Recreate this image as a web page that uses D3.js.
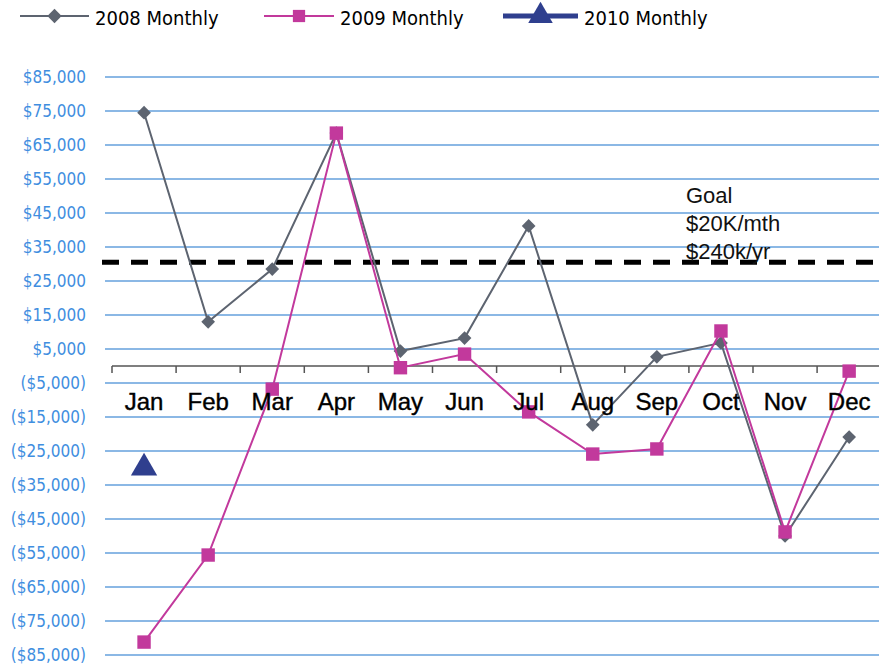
<!DOCTYPE html>
<html>
<head>
<meta charset="utf-8">
<script src="https://cdn.jsdelivr.net/npm/d3@7/dist/d3.min.js"></script>
<style>
  html, body { margin: 0; padding: 0; background: #fff; }
  svg { display: block; }
  .narrow { font-family: 'DejaVu Sans Condensed', 'Liberation Sans', sans-serif; }
  .arial { font-family: 'Liberation Sans', Arial, sans-serif; }
</style>
</head>
<body>
<svg width="879" height="670"></svg>
<script>
// chart data
var months = ['Jan','Feb','Mar','Apr','May','Jun','Jul','Aug','Sep','Oct','Nov','Dec'];
var monthly2008 = [74500, 13000, 28500, 68500, 4400, 8200, 41200, -17300, 2700, 6800, -50000, -20900];
var monthly2009 = [-81200, -55600, -6800, 68500, -500, 3500, -13500, -25900, -24400, 10300, -48800, -1500];
var monthly2010 = [-30000];
var yTicks = d3.range(85000, -85001, -10000);
var goalValue = 30500;
var goalLines = ['Goal', '$20K/mth', '$240k/yr'];

var gray = '#5d6470', pink = '#c2399c', navy = '#2f3f8e';

var svg = d3.select('svg');

var x = d3.scaleBand().domain(months).range([112, 112 + 12 * 64.1]);
var y = d3.scaleLinear().domain([-85000, 85000]).range([655, 77]);

function money(v) {
    var s = '$' + d3.format(',')(Math.abs(v));
    return v < 0 ? '(' + s + ')' : s;
}

// gridlines
svg.append('g').selectAll('line')
    .data(yTicks)
    .enter().append('line')
    .attr('x1', 105).attr('x2', 879)
    .attr('y1', function(d) { return y(d); })
    .attr('y2', function(d) { return y(d); })
    .attr('stroke', '#64a0dc')
    .attr('stroke-width', 1.5);

// y labels
svg.append('g').attr('class', 'narrow').selectAll('text')
    .data(yTicks)
    .enter().append('text')
    .attr('x', 86)
    .attr('y', function(d) { return y(d); })
    .attr('dy', '0.36em')
    .attr('text-anchor', 'end')
    .attr('fill', '#3f8ee0')
    .style('font-size', '17px')
    .text(money);

// x axis (ticks between categories)
var axis = svg.append('g').attr('transform', 'translate(0,' + y(0) + ')');
axis.append('line')
    .attr('x1', 112).attr('x2', 879)
    .attr('stroke', '#555').attr('stroke-width', 1.5);
axis.selectAll('line.tick')
    .data(months)
    .enter().append('line')
    .attr('class', 'tick')
    .attr('x1', function(d) { return x(d); })
    .attr('x2', function(d) { return x(d); })
    .attr('y1', 0).attr('y2', 7)
    .attr('stroke', '#555').attr('stroke-width', 1.5);

// goal line
svg.append('line')
    .attr('x1', 102).attr('x2', 879)
    .attr('y1', y(goalValue)).attr('y2', y(goalValue))
    .attr('stroke', '#000')
    .attr('stroke-width', 5)
    .attr('stroke-dasharray', '17,12');

svg.append('g').attr('class', 'arial').selectAll('text')
    .data(goalLines)
    .enter().append('text')
    .attr('x', 686)
    .attr('y', function(d, i) { return 203 + i * 28; })
    .attr('fill', '#111')
    .style('font-size', '22px')
    .text(function(d) { return d; });

// series
var line = d3.line()
    .x(function(d, i) { return x(months[i]) + x.bandwidth() / 2; })
    .y(function(d) { return y(d); });

var diamond = d3.symbol().type(d3.symbolDiamond2).size(120);
var square = d3.symbol().type(d3.symbolSquare).size(180);
var triangle = d3.symbol().type(d3.symbolTriangle).size(300);

function drawSeries(vals, color, sym) {
    var g = svg.append('g');
    g.append('path')
        .datum(vals)
        .attr('d', line)
        .attr('fill', 'none')
        .attr('stroke', color)
        .attr('stroke-width', 2);
    g.selectAll('path.pt')
        .data(vals)
        .enter().append('path')
        .attr('class', 'pt')
        .attr('d', sym)
        .attr('transform', function(d, i) {
            return 'translate(' + (x(months[i]) + x.bandwidth() / 2) + ',' + y(d) + ')';
        })
        .attr('fill', color);
}

drawSeries(monthly2008, gray, diamond);
drawSeries(monthly2009, pink, square);
drawSeries(monthly2010, navy, triangle);

// month labels
svg.append('g').attr('class', 'arial').selectAll('text')
    .data(months)
    .enter().append('text')
    .attr('x', function(d) { return x(d) + x.bandwidth() / 2; })
    .attr('y', 410)
    .attr('text-anchor', 'middle')
    .attr('fill', '#000')
    .attr('stroke', '#000')
    .attr('stroke-width', 0.4)
    .style('font-size', '24px')
    .text(function(d) { return d; });

// legend
var legend = [
    { name: '2008 Monthly', color: gray, sym: d3.symbol().type(d3.symbolDiamond2).size(130), x1: 20, x2: 89, w: 2 },
    { name: '2009 Monthly', color: pink, sym: d3.symbol().type(d3.symbolSquare).size(150), x1: 264, x2: 334, w: 2 },
    { name: '2010 Monthly', color: navy, sym: d3.symbol().type(d3.symbolTriangle).size(260), x1: 503, x2: 578, w: 5 }
];
var lg = svg.append('g').selectAll('g')
    .data(legend)
    .enter().append('g');
lg.append('line')
    .attr('x1', function(d) { return d.x1; })
    .attr('x2', function(d) { return d.x2; })
    .attr('y1', 16).attr('y2', 16)
    .attr('stroke', function(d) { return d.color; })
    .attr('stroke-width', function(d) { return d.w; });
lg.append('path')
    .attr('d', function(d) { return d.sym(); })
    .attr('transform', function(d) { return 'translate(' + (d.x1 + d.x2) / 2 + ',16)'; })
    .attr('fill', function(d) { return d.color; });
lg.append('text')
    .attr('class', 'narrow')
    .attr('x', function(d) { return d.x2 + 6; })
    .attr('y', 18)
    .attr('dy', '0.36em')
    .attr('fill', '#000')
    .style('font-size', '20px')
    .text(function(d) { return d.name; });
</script>
</body>
</html>
